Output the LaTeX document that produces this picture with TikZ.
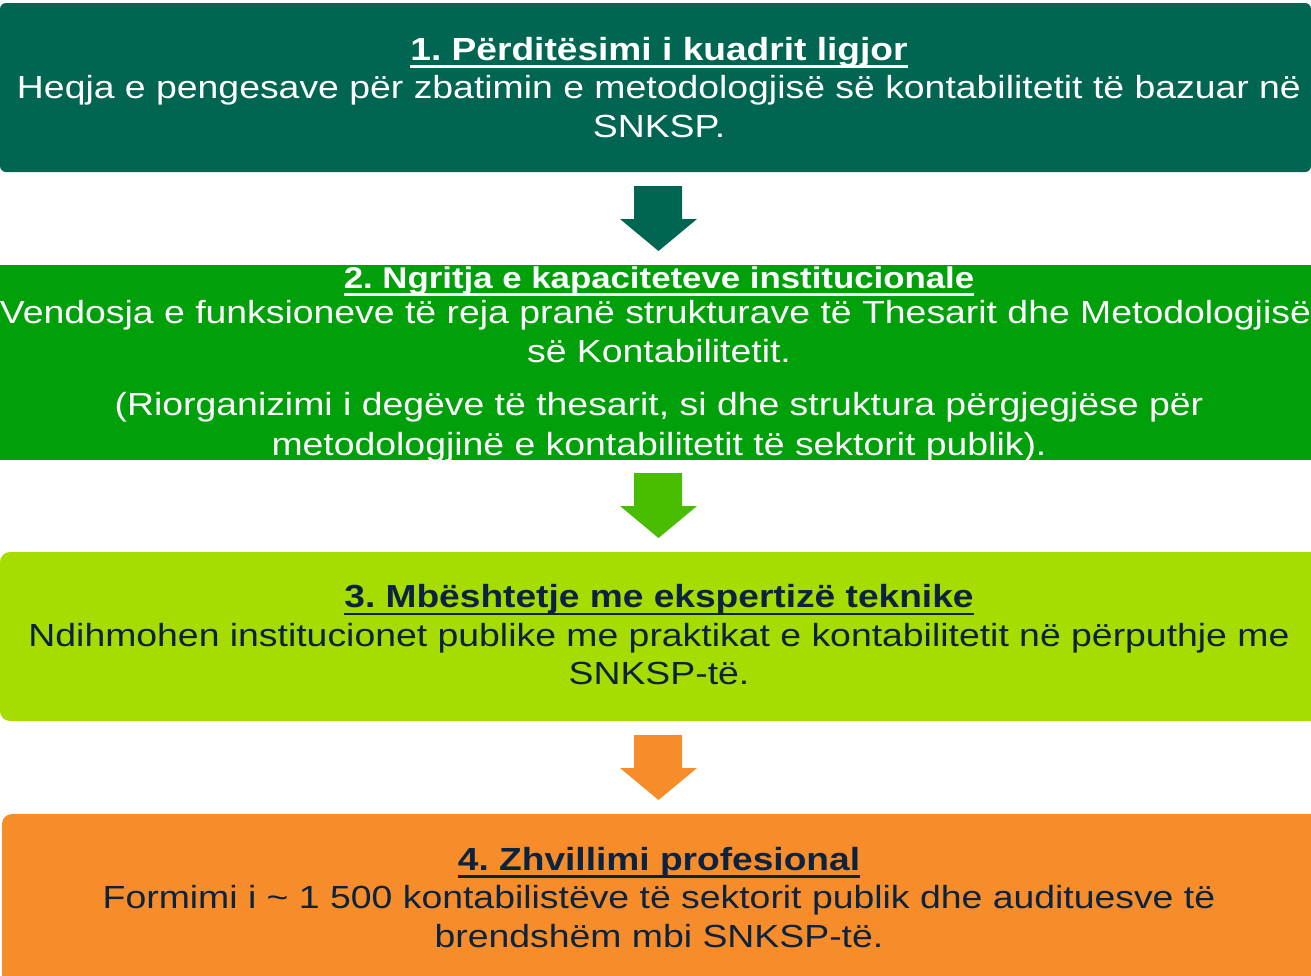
\documentclass[tikz,border=0pt]{standalone}
\usepackage{fontspec}
\setmainfont{Liberation Sans}[FakeStretch=1.168, BoldFeatures={FakeStretch=1.16}]
\usetikzlibrary{calc}
\definecolor{cone}{RGB}{0,102,82}
\definecolor{ctwo}{RGB}{0,160,10}
\definecolor{carrtwo}{RGB}{73,190,0}
\definecolor{cthree}{RGB}{166,220,0}
\definecolor{cfour}{RGB}{246,140,42}
\definecolor{navy}{RGB}{12,35,64}
\newsavebox\ulsave
\newcommand{\ulbar}[1]{\sbox\ulsave{#1}\rlap{\rule[-7.5pt]{\wd\ulsave}{2.2pt}}\usebox\ulsave}
\frenchspacing
\tikzset{
  txt/.style={anchor=base, inner sep=0pt, outer sep=0pt, font=\frenchspacing\fontsize{32pt}{38pt}\selectfont},
  ttl/.style={txt, font=\frenchspacing\fontsize{32pt}{38pt}\selectfont\bfseries},
  ttlsmall/.style={txt, font=\frenchspacing\fontsize{30pt}{36pt}\selectfont\bfseries}
}
\begin{document}
\begin{tikzpicture}[x=1pt,y=-1pt]
\useasboundingbox (0,0) rectangle (1311,975);
\clip (0,0) rectangle (1311,975);
% boxes
\fill[cone, rounded corners=6pt] (0,3) rectangle (1311,172);
\fill[ctwo] (0,265) rectangle (1311,460);
\fill[cthree, rounded corners=10pt] (0,552) rectangle (1320,721);
\fill[cfour, rounded corners=10pt] (2,814) rectangle (1320,985);
% block arrows
\fill[cone] (634,186) -- (682,186) -- (682,219) -- (697,219) -- (658.5,251) -- (620,219) -- (634,219) -- cycle;
\fill[carrtwo] (634,473) -- (682,473) -- (682,506) -- (697,506) -- (658.5,538) -- (620,506) -- (634,506) -- cycle;
\fill[cfour] (634,735) -- (682,735) -- (682,768) -- (697,768) -- (658.5,800) -- (620,768) -- (634,768) -- cycle;
% box 1 text
\node[ttl, text=white] (t1) at (659,60) {\ulbar{1. Përditësimi i kuadrit ligjor}};
\node[txt, text=white] (t1a) at (659,98.5) {Heqja e pengesave për zbatimin e metodologjisë së kontabilitetit të bazuar në};
\node[txt, text=white] (t1b) at (659,137) {SNKSP.};
% box 2 text
\node[ttlsmall, text=white] (t2) at (659,288) {\ulbar{2. Ngritja e kapaciteteve institucionale}};
\node[txt, text=white] (t2a) at (655.5,323.5) {Vendosja e funksioneve të reja pranë strukturave të Thesarit dhe Metodologjisë};
\node[txt, text=white] (t2b) at (659,362) {së Kontabilitetit.};
\node[txt, text=white] (t2c) at (659,415) {(Riorganizimi i degëve të thesarit, si dhe struktura përgjegjëse për};
\node[txt, text=white] (t2d) at (659,455) {metodologjinë e kontabilitetit të sektorit publik).};
% box 3 text
\node[ttl, text=navy] (t3) at (659,607.7) {\ulbar{3. Mbështetje me ekspertizë teknike}};
\node[txt, text=navy] (t3a) at (659,646) {Ndihmohen institucionet publike me praktikat e kontabilitetit në përputhje me};
\node[txt, text=navy] (t3b) at (659,684.5) {SNKSP-të.};
% box 4 text
\node[ttl, text=navy] (t4) at (659,870) {\ulbar{4. Zhvillimi profesional}};
\node[txt, text=navy] (t4a) at (659,908.5) {Formimi i \textasciitilde{} 1 500 kontabilistëve të sektorit publik dhe audituesve të};
\node[txt, text=navy] (t4b) at (659,947) {brendshëm mbi SNKSP-të.};
\end{tikzpicture}
\end{document}
